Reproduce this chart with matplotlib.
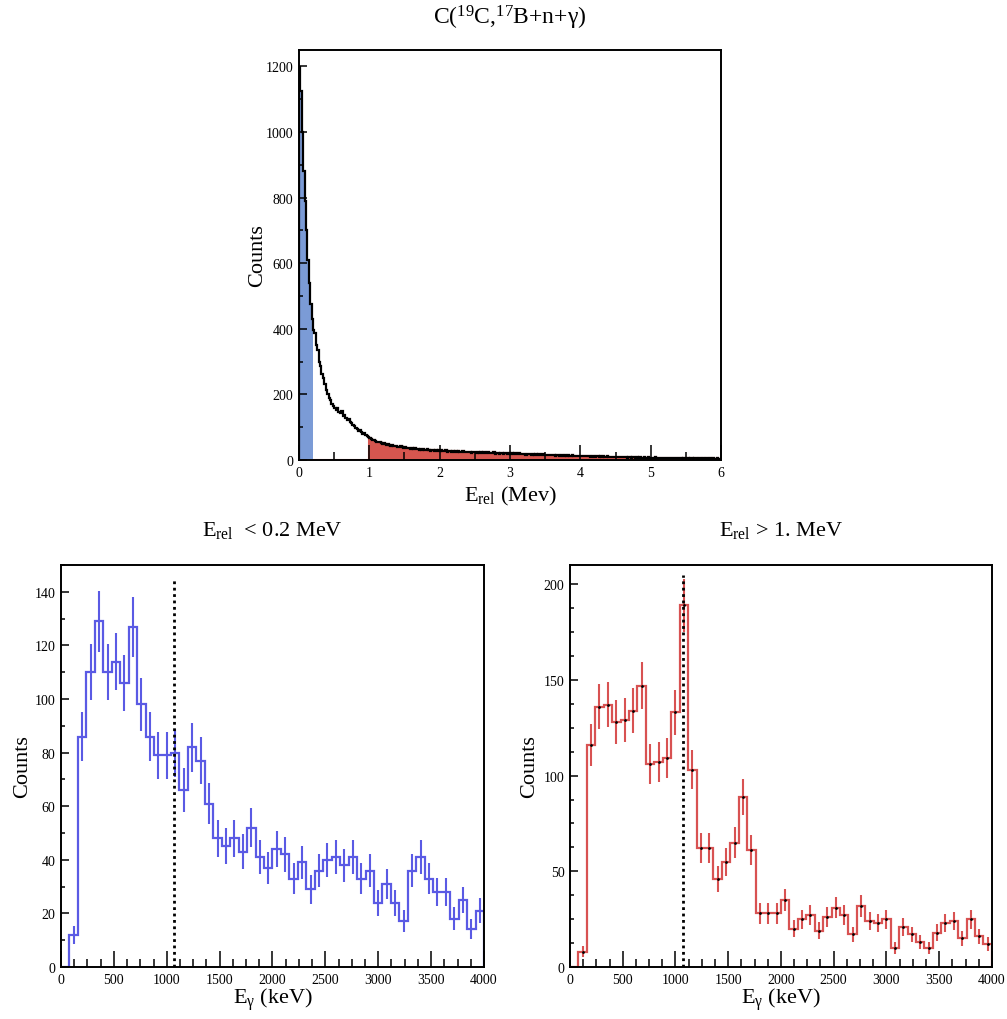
import numpy as np
import matplotlib
matplotlib.use("Agg")
import matplotlib.pyplot as plt
from matplotlib.ticker import MultipleLocator

plt.rcParams["font.family"] = ["Liberation Serif", "DejaVu Serif"]
plt.rcParams["mathtext.fontset"] = "custom"
plt.rcParams["mathtext.rm"] = "Liberation Serif"
plt.rcParams["mathtext.it"] = "Liberation Serif:italic"

# E_rel spectrum, 0-6 MeV, 0.02 MeV bins
erel_edges_range = (0.0, 6.0)
erel_counts = [
    1198, 1125, 1000, 880, 790, 700, 610, 540, 475, 430,
    395, 388, 352, 335, 300, 288, 262, 250, 232, 215,
    200, 190, 182, 172, 166, 158, 152, 160, 146, 142,
    150, 134, 138, 128, 122, 126, 116, 112, 108, 104,
    98, 94, 90, 92, 84, 80, 82, 76, 72, 70,
    66, 64, 60, 62, 58, 56, 54, 56, 52, 50,
    51, 48, 47, 49, 45, 44, 46, 43, 42, 44,
    41, 40, 42, 39, 38,
    40, 37, 36, 38, 35, 36, 34, 37, 33, 34,
    32, 35, 31, 33, 32, 30, 33, 31, 29, 32,
    30, 28, 31, 29, 30,
    28, 30, 27, 29, 31, 26, 28, 27, 25, 29,
    26, 28, 24, 27, 25, 26, 28, 24, 25, 23,
    26, 24, 22, 25, 23, 24, 21, 25, 22, 23,
    21, 24, 22, 20, 23, 21, 22, 20, 23, 19,
    22, 21, 19, 22, 20, 18, 21, 20, 19, 21,
    19, 20, 18, 21, 17, 19, 20, 18, 17, 19,
    18, 16, 19, 17, 18, 16, 17, 15, 18, 16,
    17, 15, 16, 17, 14, 16, 15, 14, 16, 15,
    14, 15, 13, 16, 14, 13, 15, 14, 12, 14,
    13, 15, 13, 12, 14, 13, 12, 13, 11, 13,
    12, 13, 11, 12, 13, 11, 12, 10, 12, 11,
    10, 12, 11, 10, 11, 9, 11, 10, 9, 11,
    10, 9, 10, 8, 10, 9, 8, 10, 9, 8,
    9, 8, 9, 7, 9, 8, 7, 9, 8, 7,
    8, 7, 8, 7, 6, 8, 7, 6, 8, 7,
    7, 6, 7, 8, 6, 7, 6, 5, 7, 6,
    6, 5, 7, 6, 5, 6, 5, 7, 5, 6,
    5, 6, 4, 6, 5, 5, 6, 4, 5, 6,
    4, 5, 5, 4, 6, 5, 4, 5, 4, 5,
    5, 4, 5, 3, 5, 4, 4, 5, 3, 4,
]
low_cut = 0.2   # MeV
high_cut = 1.0  # MeV

# gamma spectra, 0-4000 keV, 80 keV bins
egam_range = (0, 4000)
gam_low = [
    0, 12, 86, 110, 129, 110, 114, 106, 127, 98,
    86, 79, 79, 80, 66, 82, 77, 61, 48, 45,
    48, 43, 52, 41, 37, 44, 42, 33, 39, 29,
    36, 40, 41, 38, 41, 33, 36, 24, 31, 24,
    17, 36, 41, 33, 28, 28, 18, 25, 14, 21,
]
gam_high = [
    0, 8, 116, 136, 137, 128, 129, 134, 147, 106,
    107, 109, 133, 189, 103, 62, 62, 46, 55, 65,
    89, 61, 28, 28, 28, 35, 20, 25, 27, 19,
    26, 31, 27, 17, 32, 24, 23, 25, 10, 21,
    17, 13, 10, 18, 23, 24, 15, 25, 16, 12,
]
line_energy = 1068  # keV

BLUE_FILL = "#7b9bd6"
RED_FILL = "#d6564f"
BLUE_LINE = "#5a5ae4"
RED_LINE = "#d85252"


def root_axes(ax, xmaj, xmin, ymaj, ymin, xlen=(11, 5.5), ylen=(6, 3)):
    ax.xaxis.set_major_locator(MultipleLocator(xmaj))
    ax.xaxis.set_minor_locator(MultipleLocator(xmin))
    ax.yaxis.set_major_locator(MultipleLocator(ymaj))
    ax.yaxis.set_minor_locator(MultipleLocator(ymin))
    ax.tick_params(which="both", direction="in", top=False, right=False,
                   labelsize=10, width=1.1, pad=4)
    ax.tick_params(axis="x", which="major", length=xlen[0])
    ax.tick_params(axis="x", which="minor", length=xlen[1])
    ax.tick_params(axis="y", which="major", length=ylen[0])
    ax.tick_params(axis="y", which="minor", length=ylen[1])
    for sp in ax.spines.values():
        sp.set_linewidth(1.4)


fig = plt.figure(figsize=(10.07, 10.20), dpi=100)

# ---- top: E_rel spectrum ----
ax = fig.add_axes([0.2969, 0.548, 0.4191, 0.402])
counts = np.array(erel_counts, dtype=float)
edges = np.linspace(*erel_edges_range, len(counts) + 1)
centers = 0.5 * (edges[:-1] + edges[1:])
red_part = np.where(centers > high_cut, counts, 0)
blue_part = np.where(centers < low_cut, counts, 0)
ax.stairs(red_part, edges, fill=True, color=RED_FILL, lw=0)
ax.stairs(red_part, edges, color=RED_FILL, lw=1.5)
ax.stairs(blue_part, edges, fill=True, color=BLUE_FILL, lw=0)
ax.stairs(counts, edges, color="black", lw=1.6)
ax.set_xlim(*erel_edges_range)
ax.set_ylim(0, 1250)
root_axes(ax, 1, 0.5, 200, 100, xlen=(11, 5.5), ylen=(6, 3))
ax.set_xlabel(r"E$_{\mathrm{rel}}$ (Mev)", fontsize=16, labelpad=4)
ax.set_ylabel("Counts", fontsize=16, labelpad=-1)
ax.set_title(r"C($^{19}$C,$^{17}$B+n+γ)", fontsize=17, pad=19)

# ---- bottom: gamma spectra ----
panels = [
    ([0.0606, 0.051, 0.42, 0.394], gam_low, BLUE_LINE, 150, 20, 10, 145,
     r"E$_{\mathrm{rel}}$  < 0.2 MeV", False, 2),
    ([0.566, 0.051, 0.419, 0.394], gam_high, RED_LINE, 210, 50, 12.5, 205,
     r"E$_{\mathrm{rel}}$ > 1. MeV", True, 3),
]
for rect, vals, col, ytop, ymaj, ymin, line_top, title, dots, lpad in panels:
    ax = fig.add_axes(rect)
    vals = np.array(vals, dtype=float)
    gedges = np.linspace(*egam_range, len(vals) + 1)
    gcent = 0.5 * (gedges[:-1] + gedges[1:])
    ax.stairs(vals, gedges, color=col, lw=1.6)
    ok = vals > 0
    ax.errorbar(gcent[ok], vals[ok], yerr=np.sqrt(vals[ok]), fmt="none",
                ecolor=col, elinewidth=1.5, capsize=0)
    if dots:
        ax.plot(gcent[ok], vals[ok], ls="none", marker="o", ms=1.0,
                color="black")
    ax.vlines(line_energy, 0, line_top, colors="black", lw=2,
              linestyles=(0, (1, 1.3)))
    ax.set_xlim(*egam_range)
    ax.set_ylim(0, ytop)
    root_axes(ax, 500, 125, ymaj, ymin, xlen=(11.5, 5.8), ylen=(6, 3))
    ax.set_xlabel(r"E$_{\mathrm{γ}}$ (keV)", fontsize=16, labelpad=0)
    ax.set_ylabel("Counts", fontsize=16, labelpad=lpad)
    ax.set_title(title, fontsize=16, pad=22)

fig.savefig("out.png", dpi=100)
